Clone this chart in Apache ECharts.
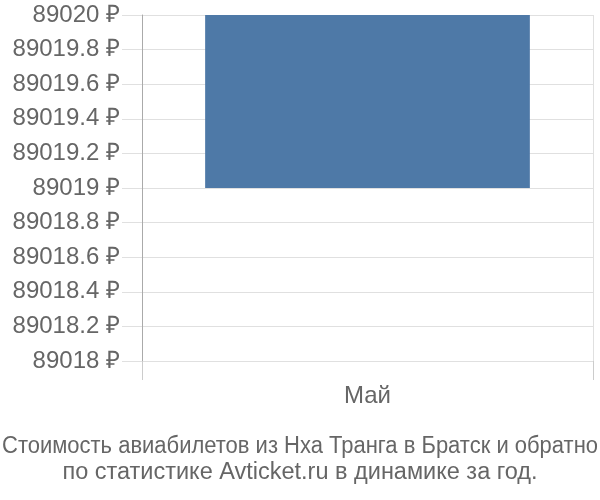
<!DOCTYPE html>
<html><head><meta charset="utf-8">
<script src="https://cdn.jsdelivr.net/npm/echarts@6/dist/echarts.min.js"></script>
<style>html,body{margin:0;padding:0;background:#fff}#c{width:600px;height:500px}</style>
</head><body><div id="c"></div>
<script>
const categories = ['Май'];
const lowValues = [89019];
const highValues = [89020];
const yTicks = [89018, 89018.2, 89018.4, 89018.6, 89018.8, 89019, 89019.2, 89019.4, 89019.6, 89019.8, 89020];
const titleLines = ['Стоимость авиабилетов из Нха Транга в Братск и обратно', 'по статистике Avticket.ru в динамике за год.'];

const titleFont = '23.5px "Liberation Sans"';
const ctx = document.createElement('canvas').getContext('2d');
ctx.font = titleFont;
const w1 = ctx.measureText(titleLines[0]).width;
const squeeze = Math.min(1, 596 / w1);

const chart = echarts.init(document.getElementById('c'));
chart.setOption({
  animation: false,
  graphic: [{
    type: 'text', x: 300, y: 447, scaleX: squeeze,
    style: {
      text: titleLines[0], textAlign: 'center', textVerticalAlign: 'middle',
      fontFamily: 'Liberation Sans', fontSize: 23.5, fill: '#666'
    }
  }, {
    type: 'text', x: 300, y: 473,
    style: {
      text: titleLines[1], textAlign: 'center', textVerticalAlign: 'middle',
      fontFamily: 'Liberation Sans', fontSize: 23.5, fill: '#666'
    }
  }],
  grid: { left: 142, right: 7, top: 15, bottom: 139 },
  xAxis: {
    type: 'category', data: categories,
    axisLine: { show: false },
    axisTick: { show: true, length: 19, lineStyle: { color: '#ccc' } },
    splitLine: { show: true, lineStyle: { color: '#e0e0e0' } },
    axisLabel: { fontFamily: 'Liberation Sans', fontSize: 24, color: '#666', margin: 23 }
  },
  yAxis: {
    type: 'value', min: yTicks[0], max: yTicks[yTicks.length - 1], interval: 0.2,
    axisLine: { show: true, lineStyle: { color: '#aaa' } },
    axisTick: { show: true, length: 20, lineStyle: { color: '#e0e0e0' } },
    splitLine: { show: true, lineStyle: { color: '#e0e0e0' } },
    axisLabel: {
      fontFamily: 'Liberation Sans', fontSize: 24, color: '#666', margin: 22,
      formatter: v => parseFloat(v.toFixed(1)) + ' ₽'
    }
  },
  series: [
    { type: 'bar', stack: 's', data: lowValues, itemStyle: { color: 'transparent' }, barCategoryGap: '28%', silent: true },
    { type: 'bar', stack: 's', data: highValues.map((h, i) => h - lowValues[i]), itemStyle: { color: '#4e79a7' }, barCategoryGap: '28%' }
  ]
});
</script></body></html>
